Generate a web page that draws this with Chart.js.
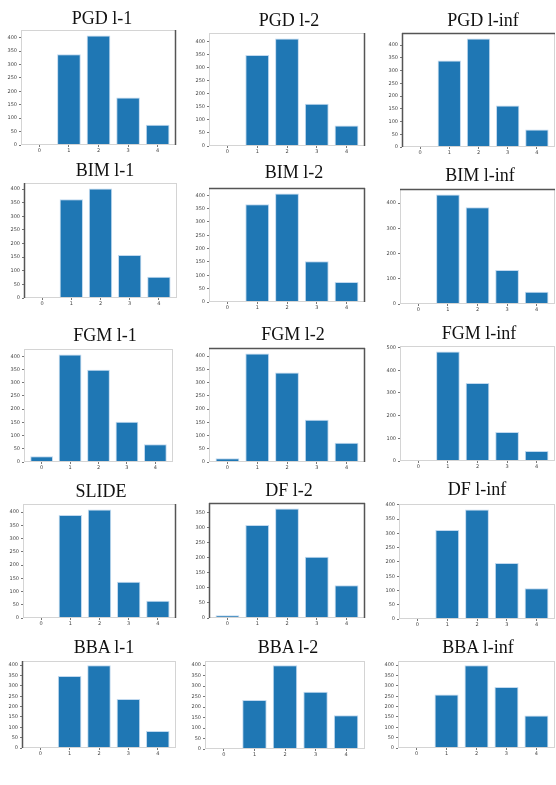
<!DOCTYPE html>
<html>
<head>
<meta charset="utf-8">
<script src="https://cdn.jsdelivr.net/npm/chart.js@4"></script>
<style>
  html, body { margin:0; padding:0; background:#fff; overflow:hidden; }
  body { width:556px; height:785px; position:relative; }
  .ttl { position:absolute; font-family:"Liberation Serif","DejaVu Serif",serif; font-size:18px; line-height:18px; color:#111; white-space:nowrap; transform:translateX(-50%); }
  canvas { position:absolute; }
</style>
</head>
<body>
<script>
// ---- data ----
const categories = ['0', '1', '2', '3', '4'];
const titles = ['PGD l-1', 'PGD l-2', 'PGD l-inf',
                'BIM l-1', 'BIM l-2', 'BIM l-inf',
                'FGM l-1', 'FGM l-2', 'FGM l-inf',
                'SLIDE', 'DF l-2', 'DF l-inf',
                'BBA l-1', 'BBA l-2', 'BBA l-inf'];
const pgdL1   = [0, 338, 408, 177, 75];
const pgdL2   = [0, 348, 411, 161, 78];
const pgdLinf = [0, 339, 426, 163, 69];
const bimL1   = [0, 362, 402, 158, 78];
const bimL2   = [0, 366, 407, 153, 75];
const bimLinf = [0, 434, 383, 135, 49];
const fgmL1   = [22, 407, 349, 152, 67];
const fgmL2   = [14, 410, 338, 160, 73];
const fgmLinf = [3, 483, 344, 128, 44];
const slide   = [0, 389, 410, 137, 65];
const dfL2    = [9, 310, 365, 204, 109];
const dfLinf  = [3, 312, 384, 196, 108];
const bbaL1   = [0, 348, 400, 236, 82];
const bbaL2   = [0, 234, 400, 273, 161];
const bbaLinf = [0, 258, 400, 294, 157];
const series = [pgdL1, pgdL2, pgdLinf, bimL1, bimL2, bimLinf, fgmL1, fgmL2, fgmLinf,
                slide, dfL2, dfLinf, bbaL1, bbaL2, bbaLinf];
const yStep = [50, 50, 50, 50, 50, 100, 50, 50, 100, 50, 50, 50, 50, 50, 50];

// ---- layout (plot rectangles: left, top, right, bottom) & title anchors ----
const plots = [
  [21, 29, 176, 145], [209, 32, 365, 146], [402, 32, 555, 147],
  [24, 182, 177, 298], [209, 187, 365, 302], [400, 188, 555, 304],
  [24, 348, 173, 462], [209, 347, 365, 462], [400, 345, 555, 461],
  [23, 503, 176, 618], [209, 502, 365, 618], [399, 503, 555, 619],
  [22, 660, 176, 748], [205, 660, 365, 749], [398, 660, 555, 748]
];
const titlePos = [
  [102, 24], [289, 26], [483, 26],
  [105, 176], [294, 178], [480, 181],
  [105, 341], [293, 340], [479, 339],
  [101, 497], [289, 496], [477, 495],
  [104, 653], [288, 653], [478, 653]
];
// which frame edges look dark in the picture: [top,right,bottom,left]
const darkEdges = [
  [0,1,0,0],[0,1,0,0],[1,0,0,1],
  [0,0,0,1],[1,1,0,0],[1,0,0,0],
  [0,0,0,0],[1,1,0,0],[0,0,0,0],
  [0,1,0,0],[1,1,0,1],[0,0,0,0],
  [0,0,0,1],[0,0,0,0],[0,0,0,0]
];

const frame = {
  id: 'frame',
  afterDraw(chart, args, opts) {
    const a = chart.chartArea, c = chart.ctx;
    c.save();
    c.lineWidth = 1;
    c.strokeStyle = '#d4d4d4';
    c.strokeRect(a.left + 0.5, a.top + 0.5, a.right - a.left - 1, a.bottom - a.top - 1);
    c.strokeStyle = '#555';
    c.lineWidth = 1.5;
    const e = opts.edges;
    c.beginPath();
    if (e[0]) { c.moveTo(a.left, a.top + 0.5); c.lineTo(a.right, a.top + 0.5); }
    if (e[1]) { c.moveTo(a.right - 0.5, a.top); c.lineTo(a.right - 0.5, a.bottom); }
    if (e[2]) { c.moveTo(a.left, a.bottom - 0.5); c.lineTo(a.right, a.bottom - 0.5); }
    if (e[3]) { c.moveTo(a.left + 0.5, a.top); c.lineTo(a.left + 0.5, a.bottom); }
    c.stroke();
    c.restore();
  }
};

const LEFT = 24, TOP = 4, RIGHT = 2, BOTTOM = 14;

series.forEach((vals, i) => {
  const [l, t, r, b] = plots[i];
  const cv = document.createElement('canvas');
  const w = r - l + LEFT + RIGHT, h = b - t + TOP + BOTTOM;
  cv.width = w; cv.height = h;
  cv.style.left = (l - LEFT) + 'px';
  cv.style.top = (t - TOP) + 'px';
  cv.style.width = w + 'px'; cv.style.height = h + 'px';
  document.body.appendChild(cv);

  const tt = document.createElement('div');
  tt.className = 'ttl';
  tt.textContent = titles[i];
  tt.style.left = titlePos[i][0] + 'px';
  tt.style.top = (titlePos[i][1] - 15) + 'px';
  document.body.appendChild(tt);

  const maxV = Math.max(...vals);
  new Chart(cv, {
    type: 'bar',
    data: {
      datasets: [{
        data: vals.map((v, k) => ({ x: +categories[k], y: v })),
        backgroundColor: '#1f77b4',
        borderColor: 'rgba(190,215,238,0.95)',
        borderWidth: 1,
        barPercentage: 0.8,
        categoryPercentage: 1.0
      }]
    },
    options: {
      responsive: false,
      animation: false,
      devicePixelRatio: 1,
      layout: { padding: { top: TOP, right: RIGHT, left: 0, bottom: 0 } },
      plugins: { legend: { display: false }, tooltip: { enabled: false }, frame: { edges: darkEdges[i] } },
      scales: {
        x: {
          type: 'linear',
          offset: false,
          min: -0.62, max: 4.62,
          afterBuildTicks: s => { s.ticks = categories.map(c => ({ value: +c })); },
          afterFit: s => { s.height = BOTTOM; },
          grid: { display: true, offset: false, drawOnChartArea: false, drawTicks: true, tickLength: 2, color: '#777' },
          border: { display: false },
          ticks: { font: { size: 5, family: 'DejaVu Sans' }, color: '#444', padding: 1, maxRotation: 0,
                   callback: v => String(v) }
        },
        y: {
          min: 0, max: maxV * 1.05,
          afterBuildTicks: s => {
            const arr = [];
            for (let v = 0; v <= s.max + 1e-9; v += yStep[i]) arr.push({ value: v });
            s.ticks = arr;
          },
          afterFit: s => { s.width = LEFT; },
          grid: { display: true, drawOnChartArea: false, drawTicks: true, tickLength: 2, color: '#777' },
          border: { display: false },
          ticks: { font: { size: 5, family: 'DejaVu Sans' }, color: '#444', padding: 2,
                   callback: v => String(v) }
        }
      }
    },
    plugins: [frame]
  });
});
</script>
</body>
</html>
